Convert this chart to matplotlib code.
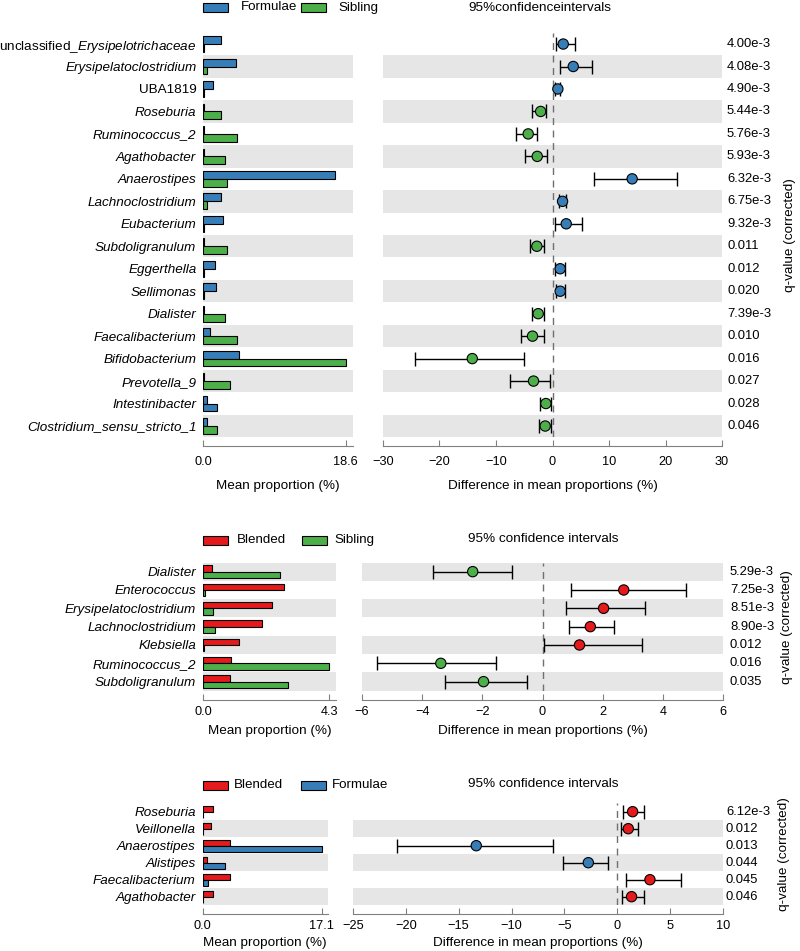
import numpy as np
import matplotlib
matplotlib.use('Agg')
import matplotlib.pyplot as plt
from matplotlib.patches import Rectangle

plt.rcParams['font.family'] = ['Liberation Sans', 'DejaVu Sans']
plt.rcParams['mathtext.fontset'] = 'custom'
plt.rcParams['mathtext.rm'] = 'Liberation Sans'
plt.rcParams['mathtext.it'] = 'Liberation Sans:italic'

BLUE = '#377EB8'
GREEN = '#4DAF4A'
RED = '#E41A1C'
BAND = '#E6E6E6'
AXC = '#808080'

W, H = 800, 951

# --- panel 1 : Formulae vs Sibling ---
p1_names = ['unclassified_$\\mathit{Erysipelotrichaceae}$', 'Erysipelatoclostridium', 'UBA1819',
            'Roseburia', 'Ruminococcus_2', 'Agathobacter', 'Anaerostipes', 'Lachnoclostridium',
            'Eubacterium', 'Subdoligranulum', 'Eggerthella', 'Sellimonas', 'Dialister',
            'Faecalibacterium', 'Bifidobacterium', 'Prevotella_9', 'Intestinibacter',
            'Clostridium_sensu_stricto_1']
p1_formulae = [2.27, 4.23, 1.3, 0.05, 0.05, 0.05, 17.2, 2.35, 2.6, 0.05, 1.57, 1.66, 0.05,
               0.88, 4.62, 0.05, 0.5, 0.5]
p1_sibling = [0.05, 0.5, 0.1, 2.27, 4.44, 2.87, 3.13, 0.52, 0.05, 3.05, 0.05, 0.05, 2.8,
              4.36, 18.6, 3.49, 1.75, 1.75]
p1_diff = [1.9, 3.67, 0.95, -2.1, -4.3, -2.7, 14.1, 1.78, 2.43, -2.77, 1.36, 1.36, -2.53,
           -3.54, -14.2, -3.36, -1.17, -1.29]
p1_lo = [0.6, 1.25, 0.5, -3.6, -6.5, -4.83, 7.33, 1.1, 0.53, -3.95, 0.42, 0.55, -3.6,
         -5.6, -24.4, -7.6, -2.3, -2.41]
p1_hi = [4.0, 7.03, 1.4, -1.17, -2.83, -1.06, 21.97, 2.4, 5.2, -1.47, 2.3, 2.2, -1.47,
         -1.53, -5.13, -0.53, -0.29, -0.29]
p1_q = ['4.00e-3', '4.08e-3', '4.90e-3', '5.44e-3', '5.76e-3', '5.93e-3', '6.32e-3',
        '6.75e-3', '9.32e-3', '0.011', '0.012', '0.020', '7.39e-3', '0.010', '0.016',
        '0.027', '0.028', '0.046']

# --- panel 2 : Blended vs Sibling ---
p2_names = ['Dialister', 'Enterococcus', 'Erysipelatoclostridium', 'Lachnoclostridium',
            'Klebsiella', 'Ruminococcus_2', 'Subdoligranulum']
p2_blended = [0.31, 2.76, 2.35, 2.0, 1.24, 0.95, 0.93]
p2_sibling = [2.62, 0.07, 0.33, 0.42, 0.02, 4.3, 2.9]
p2_diff = [-2.32, 2.7, 2.03, 1.59, 1.23, -3.38, -1.96]
p2_lo = [-3.65, 0.94, 0.77, 0.87, 0.04, -5.5, -3.25]
p2_hi = [-1.0, 4.78, 3.41, 2.38, 3.3, -1.53, -0.52]
p2_q = ['5.29e-3', '7.25e-3', '8.51e-3', '8.90e-3', '0.012', '0.016', '0.035']

# --- panel 3 : Blended vs Formulae ---
p3_names = ['Roseburia', 'Veillonella', 'Anaerostipes', 'Alistipes', 'Faecalibacterium',
            'Agathobacter']
p3_blended = [1.44, 1.15, 3.88, 0.57, 3.88, 1.44]
p3_formulae = [0.05, 0.05, 17.1, 3.25, 0.8, 0.05]
p3_diff = [1.45, 1.04, -13.34, -2.74, 3.09, 1.35]
p3_lo = [0.5, 0.35, -20.8, -5.17, 0.82, 0.41]
p3_hi = [2.52, 1.92, -6.12, -0.88, 5.99, 2.52]
p3_q = ['6.12e-3', '0.012', '0.013', '0.044', '0.045', '0.046']

PLAIN = ['UBA1819']

fig = plt.figure(figsize=(W / 100, H / 100), dpi=100)


def px_axes(x0, x1, y0, y1):
    # pixel box (top-left origin) -> figure axes
    return fig.add_axes([x0 / W, 1 - y1 / H, (x1 - x0) / W, (y1 - y0) / H])


def legend_px(y, items):
    for px, tx, col, label in items:
        fig.add_artist(Rectangle((px / W, 1 - (y + 4.5) / H), 25 / W, 9 / H,
                                 transform=fig.transFigure, facecolor=col,
                                 edgecolor='black', lw=0.8))
        fig.text(tx / W, 1 - y / H, label, fontsize=9.6, va='center', ha='left')


def draw_panel(names, g1, g2, diff, lo, hi, qv, c1, c2, lay, low_colors=None):
    n = len(names)
    y = np.arange(n)
    top = lay['top']
    bot = top + n * lay['row']
    axb = px_axes(lay['bar'][0], lay['bar'][1], top, bot)
    axc = px_axes(lay['ci'][0], lay['ci'][1], top, bot)
    for ax in (axb, axc):
        ax.set_ylim(n - 0.5, -0.5)
        for i in range(n):
            if (n - 1 - i) % 2 == 0:
                ax.axhspan(i - 0.5, i + 0.5, color=BAND, lw=0, zorder=0)
        for s in ('top', 'right', 'left'):
            ax.spines[s].set_visible(False)
        ax.spines['bottom'].set_position(('outward', 6.5))
        ax.spines['bottom'].set_color(AXC)
        ax.tick_params(axis='x', direction='in', length=4, color=AXC, labelsize=9.2,
                       pad=lay['tickpad'])
        ax.tick_params(axis='y', length=0)

    # mean proportion bars
    vmax = max(max(g1), max(g2))
    axb.barh(y - 0.175, g1, height=0.35, color=c1, edgecolor='black', lw=0.8, zorder=2)
    axb.barh(y + 0.175, g2, height=0.35, color=low_colors if low_colors else c2,
             edgecolor='black', lw=0.8, zorder=2)
    axb.set_xlim(0, vmax * 1.05)
    axb.set_xticks([0, vmax])
    axb.set_xticklabels(['0.0', '%.1f' % vmax])
    axb.set_yticks(y)
    axb.set_yticklabels(names, fontsize=9.7)
    axb.tick_params(axis='y', pad=5)
    for t, nm in zip(axb.get_yticklabels(), names):
        if '$' not in nm and nm not in PLAIN:
            t.set_fontstyle('italic')
    axb.set_xlabel('Mean proportion (%)', fontsize=9.7, labelpad=lay['labelpad'])

    # difference with confidence intervals
    axc.set_yticks([])
    axc.axvline(0, color='#707070', ls=(0, (5, 4)), lw=1, zorder=1)
    d = np.array(diff)
    cols = [c1 if v > 0 else c2 for v in d]
    axc.errorbar(d, y, xerr=[d - np.array(lo), np.array(hi) - d], fmt='none',
                 ecolor='black', elinewidth=1, capsize=5, capthick=1, zorder=2)
    axc.scatter(d, y, s=55, c=cols, edgecolors='black', linewidths=0.8, zorder=3)
    axc.set_xlim(lay['xlim'])
    axc.set_xticks(lay['xticks'])
    axc.set_xlabel('Difference in mean proportions (%)', fontsize=9.7,
                   labelpad=lay['labelpad'])

    wpx = lay['ci'][1] - lay['ci'][0]
    for i, q in enumerate(qv):
        axc.text(1 + lay['qoff'] / wpx, i, q, transform=axc.get_yaxis_transform(),
                 va='center', ha='left', fontsize=9.4)
    fig.text(lay['qlab'] / W, 1 - (top + bot) / 2 / H, 'q-value (corrected)', rotation=90,
             va='center', ha='center', fontsize=9.7)
    fig.text(lay['title'][0] / W, 1 - lay['title'][1] / H, lay['title'][2],
             ha='center', va='center', fontsize=9.7)


lay1 = dict(top=32.8, row=22.47, bar=(203.3, 352.7), ci=(383, 722), xlim=(-30, 30),
            xticks=[-30, -20, -10, 0, 10, 20, 30], qoff=5, qlab=790, tickpad=7, labelpad=8.5,
            title=(540, 8, '95%confidenceintervals'))
lay2 = dict(top=562.5, row=18.33, bar=(203, 335.7), ci=(362, 723), xlim=(-6, 6),
            xticks=[-6, -4, -2, 0, 2, 4, 6], qoff=7, qlab=787, tickpad=4.5, labelpad=5,
            title=(543, 539, '95% confidence intervals'))
lay3 = dict(top=803.2, row=17.0, bar=(202.7, 327.7), ci=(353, 723), xlim=(-25, 10),
            xticks=[-25, -20, -15, -10, -5, 0, 5, 10], qoff=3, qlab=784, tickpad=4, labelpad=4,
            title=(543, 784, '95% confidence intervals'))

# Intestinibacter lower bar is drawn blue in the original figure
p1_low_cols = [BLUE if nm == 'Intestinibacter' else GREEN for nm in p1_names]

draw_panel(p1_names, p1_formulae, p1_sibling, p1_diff, p1_lo, p1_hi, p1_q, BLUE, GREEN,
           lay1, low_colors=p1_low_cols)
draw_panel(p2_names, p2_blended, p2_sibling, p2_diff, p2_lo, p2_hi, p2_q, RED, GREEN, lay2)
draw_panel(p3_names, p3_blended, p3_formulae, p3_diff, p3_lo, p3_hi, p3_q, RED, BLUE, lay3)

legend_px(7.5, [(203, 241, BLUE, 'Formulae'), (301, 338, GREEN, 'Sibling')])
legend_px(540, [(203, 237, RED, 'Blended'), (302, 334, GREEN, 'Sibling')])
legend_px(785, [(203, 234, RED, 'Blended'), (301, 332, BLUE, 'Formulae')])

fig.savefig('out.png', dpi=100, facecolor='white')
